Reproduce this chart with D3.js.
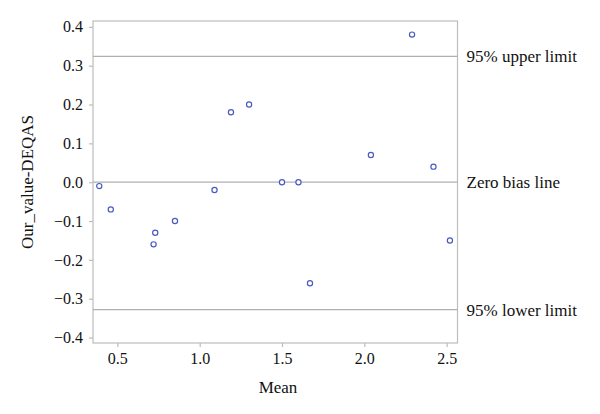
<!DOCTYPE html>
<html>
<head>
<meta charset="utf-8">
<script src="https://cdn.jsdelivr.net/npm/d3@7"></script>
<style>
  body { margin: 0; background: #fff; }
  text { font-family: "Liberation Serif", serif; fill: #111; }
</style>
</head>
<body>
<div id="chart"></div>
<script>
// Bland-Altman style plot: mean vs difference
var means = [0.39, 0.46, 0.72, 0.73, 0.85, 1.09, 1.19, 1.30, 1.50, 1.60, 1.67, 2.04, 2.29, 2.42, 2.52];
var diffs = [-0.01, -0.07, -0.16, -0.13, -0.10, -0.02, 0.18, 0.20, 0.00, 0.00, -0.26, 0.07, 0.38, 0.04, -0.15];

var refValues = [0.324, 0.0, -0.328];
var refLabels = ["95% upper limit", "Zero bias line", "95% lower limit"];

var xTicks = [0.5, 1.0, 1.5, 2.0, 2.5];
var yTicks = [0.4, 0.3, 0.2, 0.1, 0.0, -0.1, -0.2, -0.3, -0.4];

var margin = { top: 21, right: 142.5, bottom: 71, left: 93 };
var width = 600 - margin.left - margin.right,
    height = 414 - margin.top - margin.bottom;

var svg = d3.select("#chart").append("svg")
    .attr("width", 600)
    .attr("height", 414)
  .append("g")
    .attr("transform", "translate(" + margin.left + "," + margin.top + ")");

var x = d3.scaleLinear()
    .domain([0.352, 2.566])
    .range([0, width]);

var y = d3.scaleLinear()
    .domain([-0.414, 0.415])
    .range([height, 0]);

// frame
svg.append("rect")
    .attr("width", width)
    .attr("height", height)
    .attr("fill", "none")
    .attr("stroke", "#bdbdbd")
    .attr("stroke-width", 1.2);

// axes
var xAxis = svg.append("g")
    .attr("transform", "translate(0," + height + ")")
    .call(d3.axisBottom(x).tickValues(xTicks).tickFormat(d3.format(".1f")).tickSize(4).tickPadding(6));

var yAxis = svg.append("g")
    .call(d3.axisLeft(y).tickValues(yTicks).tickFormat(function(d) {
      return d3.format(".1f")(d).replace("-", "\u2212");
    }).tickSize(4).tickPadding(6));

[xAxis, yAxis].forEach(function(a) {
  a.select(".domain").remove();
  a.selectAll(".tick line").attr("stroke", "#bdbdbd").attr("stroke-width", 1.2);
  a.selectAll(".tick text").style("font-size", "16px").style("font-family", "Liberation Serif, serif").attr("fill", "#111");
});

// reference lines
svg.selectAll(".ref")
    .data(refValues)
  .enter().append("line")
    .attr("class", "ref")
    .attr("x1", 0)
    .attr("x2", width)
    .attr("y1", function(d) { return y(d); })
    .attr("y2", function(d) { return y(d); })
    .attr("stroke", "#b0b0b0")
    .attr("stroke-width", 1.3);

svg.selectAll(".ref-label")
    .data(refValues)
  .enter().append("text")
    .attr("class", "ref-label")
    .attr("x", width + 9)
    .attr("y", function(d) { return y(d) + 6; })
    .style("font-size", "17px")
    .text(function(d, i) { return refLabels[i]; });

// points
svg.selectAll(".pt")
    .data(means)
  .enter().append("circle")
    .attr("class", "pt")
    .attr("cx", function(d) { return x(d); })
    .attr("cy", function(d, i) { return y(diffs[i]); })
    .attr("r", 2.6)
    .attr("fill", "#fff")
    .attr("stroke", "#4a5bbf")
    .attr("stroke-width", 1.2);

// axis titles
svg.append("text")
    .attr("x", x(1.5) - 4)
    .attr("y", height + 50)
    .attr("text-anchor", "middle")
    .style("font-size", "17px")
    .text("Mean");

svg.append("text")
    .attr("transform", "translate(" + (33 - margin.left) + "," + (height / 2) + ") rotate(-90)")
    .attr("text-anchor", "middle")
    .style("font-size", "17px")
    .text("Our_value-DEQAS");
</script>
</body>
</html>
